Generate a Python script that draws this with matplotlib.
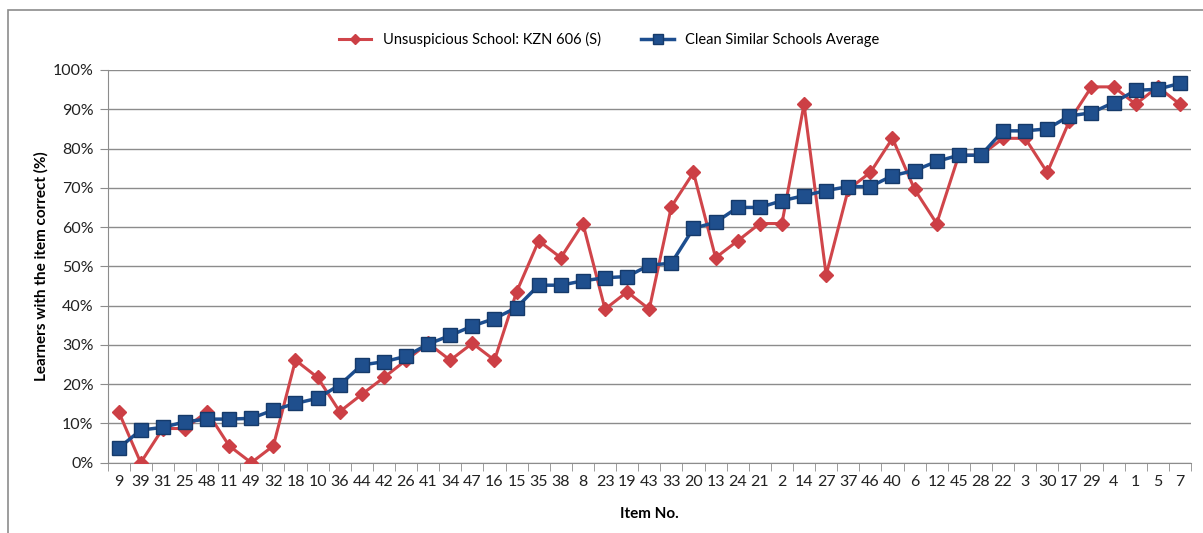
import matplotlib.pyplot as plt
from matplotlib.patches import Rectangle
from matplotlib.ticker import FuncFormatter, FixedLocator

plt.rcParams['font.family'] = ['Lato', 'DejaVu Sans']

items = ['9', '39', '31', '25', '48', '11', '49', '32', '18', '10',
         '36', '44', '42', '26', '41', '34', '47', '16', '15', '35',
         '38', '8', '23', '19', '43', '33', '20', '13', '24', '21',
         '2', '14', '27', '37', '46', '40', '6', '12', '45', '28',
         '22', '3', '30', '17', '29', '4', '1', '5', '7']

school = [13.0, 0.0, 8.7, 8.7, 13.0, 4.3, 0.0, 4.3, 26.1, 21.7,
          13.0, 17.4, 21.7, 26.1, 30.4, 26.1, 30.4, 26.1, 43.5, 56.5,
          52.2, 60.9, 39.1, 43.5, 39.1, 65.2, 73.9, 52.2, 56.5, 60.9,
          60.9, 91.3, 47.8, 69.6, 73.9, 82.6, 69.6, 60.9, 78.3, 78.3,
          82.6, 82.6, 73.9, 87.0, 95.7, 95.7, 91.3, 95.7, 91.3]

similar = [3.7, 8.3, 9.0, 10.4, 11.1, 11.1, 11.3, 13.4, 15.1, 16.4,
           19.8, 24.9, 25.7, 27.1, 30.2, 32.4, 34.8, 36.7, 39.5, 45.2,
           45.2, 46.3, 47.1, 47.4, 50.3, 50.8, 59.7, 61.2, 65.0, 65.0,
           66.7, 68.0, 69.3, 70.3, 70.3, 73.1, 74.4, 76.7, 78.3, 78.3,
           84.5, 84.5, 85.0, 88.3, 89.1, 91.7, 94.8, 95.1, 96.6]

fig = plt.figure(figsize=(12.03, 5.33), dpi=100)
ax = fig.add_axes([0.0894, 0.1319, 0.9006, 0.7368])

# outer chart border
fig.patches.append(Rectangle((0.0065, -0.01), 1.1, 0.991, transform=fig.transFigure,
                             fill=False, edgecolor='#8c8c8c', linewidth=1.2))

x = list(range(len(items)))
ax.plot(x, school, color='#d0454a', linewidth=2.2, marker='D', markersize=7,
        markerfacecolor='#cc3f45', markeredgecolor='#cc3f45',
        label='Unsuspicious School: KZN 606 (S)', zorder=3)
ax.plot(x, similar, color='#1d4e8f', linewidth=2.5, marker='s', markersize=9.5,
        markerfacecolor='#1f4f8d', markeredgecolor='#153a6a',
        label='Clean Similar Schools Average', zorder=4)

ax.set_xlim(-0.5, len(items) - 0.5)
ax.set_ylim(0, 100)
ax.set_yticks(range(0, 101, 10))
ax.yaxis.set_major_formatter(FuncFormatter(lambda v, p: f'{int(v)}%'))
ax.set_xticks(x)
ax.set_xticklabels(items)
ax.xaxis.set_minor_locator(FixedLocator([i - 0.5 for i in range(len(items) + 1)]))
ax.tick_params(axis='x', which='major', length=0, pad=9, labelsize=11.5, colors='#222222')
ax.tick_params(axis='x', which='minor', length=6, color='#8c8c8c')
ax.tick_params(axis='y', length=6, color='#8c8c8c', labelsize=11.5, pad=4, labelcolor='#222222')

ax.grid(axis='y', color='#8c8c8c', linewidth=1)
ax.set_axisbelow(True)
for s in ['top', 'right']:
    ax.spines[s].set_visible(False)
ax.spines['left'].set_color('#8c8c8c')
ax.spines['bottom'].set_color('#8c8c8c')

ax.set_ylabel('Learners with the item correct (%)', fontsize=11, fontweight='bold', labelpad=3)
ax.set_xlabel('Item No.', fontsize=11, fontweight='bold', labelpad=13)

ax.legend(loc='lower center', bbox_to_anchor=(0.463, 1.025), ncol=2, frameon=False,
          fontsize=10.5, handlelength=2.2, columnspacing=2.8, markerscale=0.8)

fig.savefig('out.png', dpi=100)
plt.close(fig)
